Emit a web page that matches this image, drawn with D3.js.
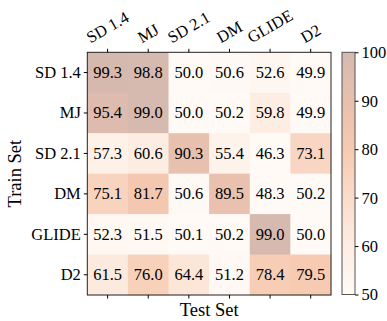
<!DOCTYPE html>
<html><head><meta charset="utf-8">
<script src="https://cdn.jsdelivr.net/npm/d3@7"></script>
<style>body{margin:0;background:#fff}svg{display:block}</style>
</head><body>
<svg id="c" width="387" height="321"></svg>
<script>
const testSets = ["SD 1.4","MJ","SD 2.1","DM","GLIDE","D2"];
const trainSets = ["SD 1.4","MJ","SD 2.1","DM","GLIDE","D2"];
const values = [
  [99.3,98.8,50.0,50.6,52.6,49.9],
  [95.4,99.0,50.0,50.2,59.8,49.9],
  [57.3,60.6,90.3,55.4,46.3,73.1],
  [75.1,81.7,50.6,89.5,48.3,50.2],
  [52.3,51.5,50.1,50.2,99.0,50.0],
  [61.5,76.0,64.4,51.2,78.4,79.5]
];
const cbTicks = [50,60,70,80,90,100];
const colorStops = [50,60,70,80,90,100];
const colorRange = ["#fffaf6","#fdede2","#fadccb","#f6cab1","#e8c0ae","#d4b9af"];

const svg = d3.select("#c");
const font = "'Liberation Serif','Times New Roman',serif";
const L=87.3, R=331, T=52.3, B=295;
const x = d3.scaleBand().domain(testSets).range([L,R]);
const y = d3.scaleBand().domain(trainSets).range([T,B]);
const color = d3.scaleLinear().domain(colorStops).range(colorRange).clamp(true);

const cells=[];
values.forEach((row,i)=>row.forEach((v,j)=>cells.push({r:trainSets[i],c:testSets[j],v})));
svg.append("g").selectAll("rect").data(cells).join("rect")
  .attr("x",d=>x(d.c)).attr("y",d=>y(d.r))
  .attr("width",x.bandwidth()+0.5).attr("height",y.bandwidth()+0.5)
  .attr("fill",d=>color(d.v));
svg.append("g").selectAll("text").data(cells).join("text")
  .attr("x",d=>x(d.c)+x.bandwidth()/2).attr("y",d=>y(d.r)+y.bandwidth()/2+5.5)
  .attr("text-anchor","middle").attr("font-family",font).attr("font-size",16.5)
  .attr("fill","#000").text(d=>d.v.toFixed(1));

// frame
svg.append("rect").attr("x",L).attr("y",T).attr("width",R-L).attr("height",B-T)
  .attr("fill","none").attr("stroke","#222").attr("stroke-width",1);

// left axis
const ay = svg.append("g").attr("transform",`translate(${L},0)`)
  .call(d3.axisLeft(y).tickSize(3.5).tickPadding(3));
ay.select(".domain").remove();
ay.selectAll("text").attr("font-family",font).attr("font-size",16.5).attr("fill","#000").attr("dy","0.33em");
ay.selectAll("line").attr("stroke","#000");

// bottom ticks (no labels)
const ab = svg.append("g").attr("transform",`translate(0,${B})`)
  .call(d3.axisBottom(x).tickSize(3.5).tickFormat(""));
ab.select(".domain").remove();
ab.selectAll("line").attr("stroke","#000");

// top ticks with rotated labels
const at = svg.append("g").attr("transform",`translate(0,${T})`)
  .call(d3.axisTop(x).tickSize(3.5).tickFormat(""));
at.select(".domain").remove();
at.selectAll("line").attr("stroke","#000");
const topG = svg.append("g");
testSets.forEach(s=>{
  const t = topG.append("text").attr("font-family",font).attr("font-size",16.5)
    .attr("text-anchor","middle").attr("dominant-baseline","central").text(s);
  const w = t.node().getComputedTextLength();
  const h = 15;
  const ang = 30*Math.PI/180;
  const bh = w*Math.sin(ang)+h*Math.cos(ang);
  const cx = x(s)+x.bandwidth()/2, cy = T-3.5-3.5-bh/2;
  t.attr("transform",`translate(${cx},${cy}) rotate(-30)`);
});

// axis titles
svg.append("text").attr("x",(L+R)/2).attr("y",315.5).attr("text-anchor","middle")
  .attr("font-family",font).attr("font-size",18.5).text("Test Set");
svg.append("text").attr("transform",`translate(21,${(T+B)/2}) rotate(-90)`).attr("text-anchor","middle")
  .attr("font-family",font).attr("font-size",18.5).text("Train Set");

// colorbar
const cbL=342, cbR=355, cbT=52.3, cbB=294.5;
const cy = d3.scaleLinear().domain([50,100]).range([cbB,cbT]);
const defs = svg.append("defs");
const grad = defs.append("linearGradient").attr("id","g").attr("x1",0).attr("y1",1).attr("x2",0).attr("y2",0);
colorStops.forEach((s,i)=>grad.append("stop").attr("offset",(s-50)/50).attr("stop-color",colorRange[i]));
svg.append("rect").attr("x",cbL).attr("y",cbT).attr("width",cbR-cbL).attr("height",cbB-cbT)
  .attr("fill","url(#g)").attr("stroke","#555").attr("stroke-width",1);
const ac = svg.append("g").attr("transform",`translate(${cbR},0)`)
  .call(d3.axisRight(cy).tickValues(cbTicks).tickSize(3.5).tickPadding(3));
ac.select(".domain").remove();
ac.selectAll("text").attr("font-family",font).attr("font-size",16.5).attr("fill","#000").attr("dy","0.33em");
ac.selectAll("line").attr("stroke","#000");
</script>
</body></html>
